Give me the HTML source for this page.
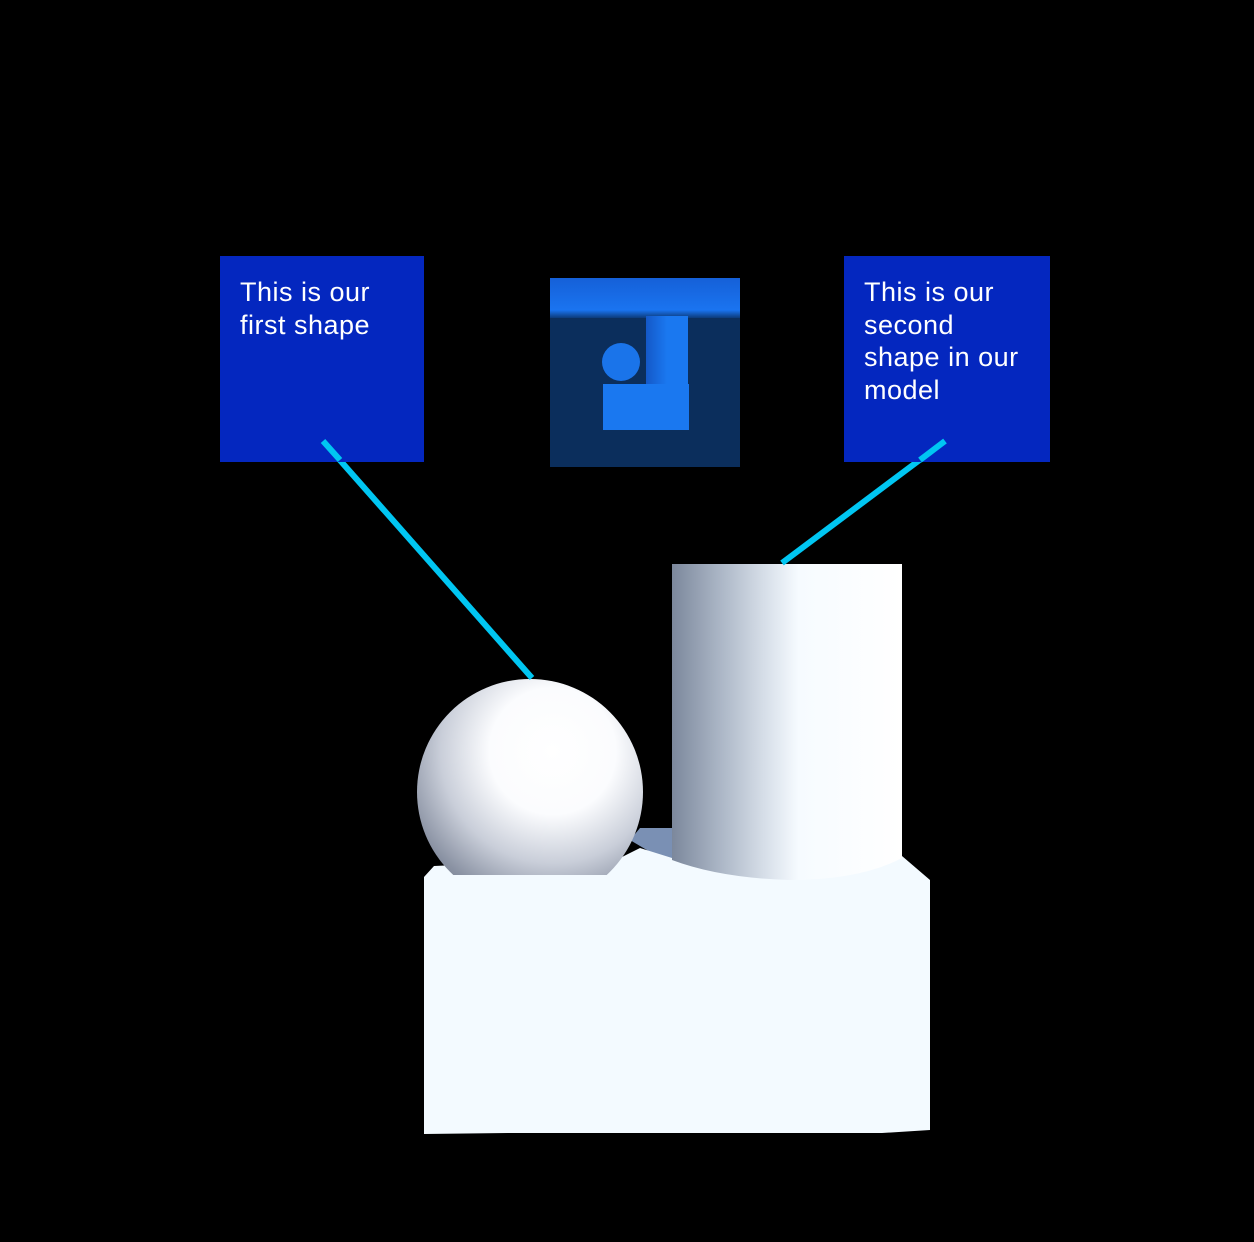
<!DOCTYPE html>
<html><head><style>
html,body{margin:0;padding:0;background:#000;width:1254px;height:1242px;overflow:hidden}
.t{position:absolute;background:#0427bf;color:#fff;font-family:"Liberation Sans",sans-serif;font-size:27px;letter-spacing:0.5px;line-height:32.5px;padding:20px 0 0 20px;box-sizing:border-box}
</style></head><body>
<svg width="1254" height="1242" style="position:absolute;left:0;top:0">
<defs>
<linearGradient id="cy" x1="0" x2="1" y1="0" y2="0">
<stop offset="0" stop-color="#7c889c"/><stop offset="0.2" stop-color="#a9b4c4"/><stop offset="0.4" stop-color="#d6dee8"/><stop offset="0.55" stop-color="#f6fbff"/><stop offset="1" stop-color="#ffffff"/></linearGradient>
<radialGradient id="sp" cx="0.6" cy="0.32" r="0.8">
<stop offset="0" stop-color="#ffffff"/><stop offset="0.35" stop-color="#fbfcfe"/><stop offset="0.62" stop-color="#c9ced9"/><stop offset="0.85" stop-color="#8a92a3"/><stop offset="1" stop-color="#6e7688"/></radialGradient>
<linearGradient id="band" x1="0" x2="0" y1="0" y2="1"><stop offset="0" stop-color="#1560d8"/><stop offset="0.8" stop-color="#1a74f0"/><stop offset="1" stop-color="#0c3a78"/></linearGradient>
<linearGradient id="mc" x1="0" x2="1"><stop offset="0" stop-color="#1458c8"/><stop offset="0.5" stop-color="#1a78f0"/></linearGradient>
<clipPath id="sc"><rect x="400" y="660" width="260" height="215"/></clipPath>
</defs>
<rect x="550" y="278" width="190" height="189" fill="#0b2e5c"/>
<rect x="550" y="278" width="190" height="40" fill="url(#band)"/>
<rect x="646" y="316" width="42" height="72" fill="url(#mc)"/>
<circle cx="621" cy="362" r="19" fill="#1a74ea"/>
<rect x="603" y="384" width="86" height="46" fill="#1a78f0"/>
<polygon points="630,840 640,828 672,828 672,865" fill="#7a90b4"/>
<polygon points="424,877 434,866 620,858 640,848 672,858 902,856 930,880 930,1130 882,1133 508,1133 424,1134" fill="#f3faff"/>
<path d="M672,564 H902 V858 Q860,880 790,880 Q720,878 672,860 Z" fill="url(#cy)"/>
<circle cx="530" cy="792" r="113" fill="url(#sp)" clip-path="url(#sc)"/>
<line x1="323" y1="441" x2="532" y2="678" stroke="#00c6f2" stroke-width="6"/>
<line x1="945" y1="441" x2="782" y2="563" stroke="#00c6f2" stroke-width="6"/>
</svg>
<div class="t" style="left:220px;top:256px;width:204px;height:206px">This is our<br>first shape</div>
<div class="t" style="left:844px;top:256px;width:206px;height:206px">This is our<br>second<br>shape in our<br>model</div>
<svg width="1254" height="1242" style="position:absolute;left:0;top:0">
<line x1="323" y1="441" x2="340" y2="460" stroke="#00c6f2" stroke-width="6"/>
<line x1="945" y1="441" x2="920" y2="460" stroke="#00c6f2" stroke-width="6"/>
</svg>
</body></html>
